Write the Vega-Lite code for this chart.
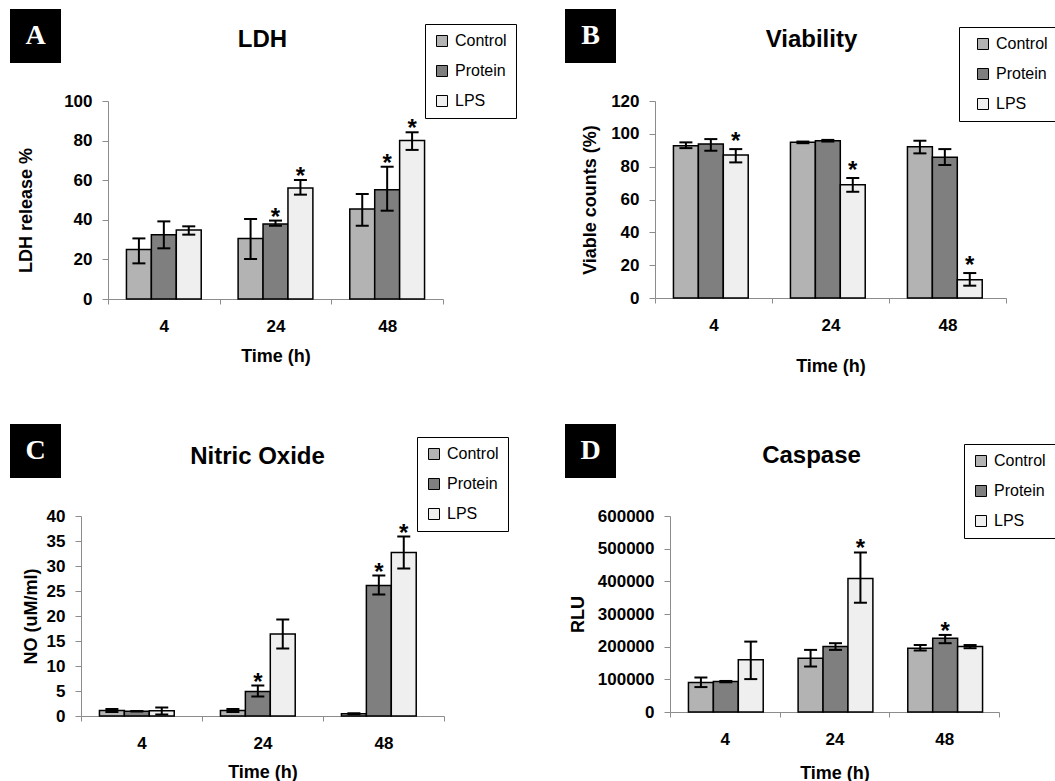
{
  "$schema": "https://vega.github.io/schema/vega-lite/v6.json",
  "padding": {"left": 10, "top": 3, "right": 0, "bottom": 0},
  "background": "white",
  "datasets": {
    "lds": [
      {"time": "4", "group": "Control", "value": 25, "lo": 18, "hi": 30.6, "sig": ""},
      {"time": "4", "group": "Protein", "value": 32.5, "lo": 25.6, "hi": 39.2, "sig": ""},
      {"time": "4", "group": "LPS", "value": 34.8, "lo": 32.5, "hi": 36.7, "sig": ""},
      {"time": "24", "group": "Control", "value": 30.6, "lo": 20.2, "hi": 40.4, "sig": ""},
      {"time": "24", "group": "Protein", "value": 37.9, "lo": 37, "hi": 39.6, "sig": "*"},
      {"time": "24", "group": "LPS", "value": 56, "lo": 52.7, "hi": 60.1, "sig": "*"},
      {"time": "48", "group": "Control", "value": 45.5, "lo": 37, "hi": 53, "sig": ""},
      {"time": "48", "group": "Protein", "value": 55.2, "lo": 44.6, "hi": 66.8, "sig": "*"},
      {"time": "48", "group": "LPS", "value": 80, "lo": 75.3, "hi": 84.2, "sig": "*"}
    ],
    "via": [
      {"time": "4", "group": "Control", "value": 92.8, "lo": 91.3, "hi": 94.8, "sig": ""},
      {"time": "4", "group": "Protein", "value": 93.8, "lo": 89.7, "hi": 96.8, "sig": ""},
      {"time": "4", "group": "LPS", "value": 87.1, "lo": 82.6, "hi": 90.7, "sig": "*"},
      {"time": "24", "group": "Control", "value": 94.8, "lo": 94.3, "hi": 95.3, "sig": ""},
      {"time": "24", "group": "Protein", "value": 95.8, "lo": 95.3, "hi": 96.3, "sig": ""},
      {"time": "24", "group": "LPS", "value": 69, "lo": 64.7, "hi": 73.1, "sig": "*"},
      {"time": "48", "group": "Control", "value": 92.1, "lo": 88.1, "hi": 95.8, "sig": ""},
      {"time": "48", "group": "Protein", "value": 85.7, "lo": 81, "hi": 90.7, "sig": ""},
      {"time": "48", "group": "LPS", "value": 11.1, "lo": 7.5, "hi": 15.2, "sig": "*"}
    ],
    "no": [
      {"time": "4", "group": "Control", "value": 1.1, "lo": 0.8, "hi": 1.4, "sig": ""},
      {"time": "4", "group": "Protein", "value": 0.95, "lo": 0.9, "hi": 1.0, "sig": ""},
      {"time": "4", "group": "LPS", "value": 1.05, "lo": 0.3, "hi": 1.7, "sig": ""},
      {"time": "24", "group": "Control", "value": 1.1, "lo": 0.8, "hi": 1.4, "sig": ""},
      {"time": "24", "group": "Protein", "value": 4.9, "lo": 3.9, "hi": 6.1, "sig": "*"},
      {"time": "24", "group": "LPS", "value": 16.4, "lo": 13.5, "hi": 19.3, "sig": ""},
      {"time": "48", "group": "Control", "value": 0.45, "lo": 0.35, "hi": 0.55, "sig": ""},
      {"time": "48", "group": "Protein", "value": 26.1, "lo": 24.3, "hi": 28.1, "sig": "*"},
      {"time": "48", "group": "LPS", "value": 32.7, "lo": 29.5, "hi": 35.9, "sig": "*"}
    ],
    "cas": [
      {"time": "4", "group": "Control", "value": 90300, "lo": 76300, "hi": 105600, "sig": ""},
      {"time": "4", "group": "Protein", "value": 93400, "lo": 91000, "hi": 95000, "sig": ""},
      {"time": "4", "group": "LPS", "value": 159600, "lo": 100700, "hi": 215500, "sig": ""},
      {"time": "24", "group": "Control", "value": 164800, "lo": 139200, "hi": 190100, "sig": ""},
      {"time": "24", "group": "Protein", "value": 200200, "lo": 190100, "hi": 210600, "sig": ""},
      {"time": "24", "group": "LPS", "value": 409000, "lo": 334500, "hi": 488300, "sig": "*"},
      {"time": "48", "group": "Control", "value": 195300, "lo": 188000, "hi": 205000, "sig": ""},
      {"time": "48", "group": "Protein", "value": 225800, "lo": 210600, "hi": 235900, "sig": "*"},
      {"time": "48", "group": "LPS", "value": 200200, "lo": 195300, "hi": 205000, "sig": ""}
    ]
  },
  "columns": 2,
  "spacing": {"row": 43, "column": 48},
  "align": "each",
  "bounds": "full",
  "resolve": {"scale": {"color": "independent"}, "legend": {"color": "independent"}},
  "concat": [
    {
      "columns": 2, "spacing": {"row": 38, "column": 0}, "align": "each", "bounds": "flush",
      "resolve": {"scale": {"color": "independent"}, "legend": {"color": "independent"}},
      "concat": [
        {"width": 51, "height": 54, "data": {"values": [{"letter": "A"}]}, "mark": {"type": "text", "font": "Liberation Serif", "fontSize": 28, "fontWeight": "bold", "color": "white", "opacity": 1}, "encoding": {"text": {"field": "letter"}}, "view": {"fill": "black", "stroke": null}},
        {"width": 1, "height": 1, "data": {"values": [{}]}, "mark": {"type": "text", "text": ""}, "encoding": {}, "view": {"stroke": null}},
        {"width": 98, "height": 1, "data": {"values": [{}]}, "mark": {"type": "text", "text": ""}, "encoding": {}, "view": {"stroke": null}},
        {
          "width": 335, "height": 198,
          "data": {"name": "lds"},
          "title": {"text": "LDH", "dx": -13, "offset": -47, "baseline": "alphabetic", "frame": "group"},
          "encoding": {
            "x": {"field": "time", "type": "nominal", "sort": ["4", "24", "48"], "scale": {"paddingInner": 0, "paddingOuter": 0}, "axis": {"title": "Time (h)", "titleY": 62, "labelOverlap": false}},
            "xOffset": {"field": "group", "type": "nominal", "sort": ["Control", "Protein", "LPS"], "scale": {"paddingInner": 0, "paddingOuter": 0.74}}
          },
          "layer": [
            {"mark": {"type": "bar", "stroke": "black", "strokeWidth": 1.5, "opacity": 1},
             "encoding": {
               "y": {"field": "value", "type": "quantitative", "scale": {"domain": [0, 100]}, "axis": {"title": "LDH release %", "values": [0, 20, 40, 60, 80, 100], "tickCount": 20, "labelOverlap": false, "titleX": -82, "titleY": 109}},
               "color": {"field": "group", "type": "nominal", "sort": ["Control", "Protein", "LPS"], "scale": {"domain": ["Control", "Protein", "LPS"], "range": ["#b3b3b3", "#7f7f7f", "#efefef"]}, "legend": {"title": null, "orient": "none", "legendX": 317, "legendY": -77}}
             }},
            {"mark": {"type": "rule", "color": "black", "strokeWidth": 2, "opacity": 1},
             "encoding": {"y": {"field": "lo", "type": "quantitative", "scale": {"domain": [0, 100]}, "title": "LDH release %"}, "y2": {"field": "hi"}}},
            {"mark": {"type": "tick", "color": "black", "size": 13, "thickness": 2, "opacity": 1},
             "encoding": {"y": {"field": "lo", "type": "quantitative", "scale": {"domain": [0, 100]}, "title": "LDH release %"}}},
            {"mark": {"type": "tick", "color": "black", "size": 13, "thickness": 2, "opacity": 1},
             "encoding": {"y": {"field": "hi", "type": "quantitative", "scale": {"domain": [0, 100]}, "title": "LDH release %"}}},
            {"mark": {"type": "text", "fontSize": 24, "fontWeight": "bold", "dy": 4, "baseline": "alphabetic", "color": "black", "opacity": 1},
             "encoding": {"y": {"field": "hi", "type": "quantitative", "scale": {"domain": [0, 100]}, "title": "LDH release %"}, "text": {"field": "sig"}}}
          ]
        }
      ]
    },
    {
      "columns": 2, "spacing": {"row": 38, "column": 0}, "align": "each", "bounds": "flush",
      "resolve": {"scale": {"color": "independent"}, "legend": {"color": "independent"}},
      "concat": [
        {"width": 51, "height": 54, "data": {"values": [{"letter": "B"}]}, "mark": {"type": "text", "font": "Liberation Serif", "fontSize": 28, "fontWeight": "bold", "color": "white", "opacity": 1}, "encoding": {"text": {"field": "letter"}}, "view": {"fill": "black", "stroke": null}},
        {"width": 1, "height": 1, "data": {"values": [{}]}, "mark": {"type": "text", "text": ""}, "encoding": {}, "view": {"stroke": null}},
        {"width": 90, "height": 1, "data": {"values": [{}]}, "mark": {"type": "text", "text": ""}, "encoding": {}, "view": {"stroke": null}},
        {
          "width": 351, "height": 197,
          "data": {"name": "via"},
          "title": {"text": "Viability", "dx": -19, "offset": -44, "baseline": "alphabetic", "frame": "group"},
          "encoding": {
            "x": {"field": "time", "type": "nominal", "sort": ["4", "24", "48"], "scale": {"paddingInner": 0, "paddingOuter": 0}, "axis": {"title": "Time (h)", "titleY": 73, "labelOverlap": false}},
            "xOffset": {"field": "group", "type": "nominal", "sort": ["Control", "Protein", "LPS"], "scale": {"paddingInner": 0, "paddingOuter": 0.74}}
          },
          "layer": [
            {"mark": {"type": "bar", "stroke": "black", "strokeWidth": 1.5, "opacity": 1},
             "encoding": {
               "y": {"field": "value", "type": "quantitative", "scale": {"domain": [0, 120]}, "axis": {"title": "Viable counts (%)", "values": [0, 20, 40, 60, 80, 100, 120], "tickCount": 20, "labelOverlap": false, "titleX": -65}},
               "color": {"field": "group", "type": "nominal", "sort": ["Control", "Protein", "LPS"], "scale": {"domain": ["Control", "Protein", "LPS"], "range": ["#b3b3b3", "#7f7f7f", "#efefef"]}, "legend": {"title": null, "orient": "none", "legendX": 304, "legendY": -74, "symbolOffset": 7}}
             }},
            {"mark": {"type": "rule", "color": "black", "strokeWidth": 2, "opacity": 1},
             "encoding": {"y": {"field": "lo", "type": "quantitative", "scale": {"domain": [0, 120]}, "title": "Viable counts (%)"}, "y2": {"field": "hi"}}},
            {"mark": {"type": "tick", "color": "black", "size": 13, "thickness": 2, "opacity": 1},
             "encoding": {"y": {"field": "lo", "type": "quantitative", "scale": {"domain": [0, 120]}, "title": "Viable counts (%)"}}},
            {"mark": {"type": "tick", "color": "black", "size": 13, "thickness": 2, "opacity": 1},
             "encoding": {"y": {"field": "hi", "type": "quantitative", "scale": {"domain": [0, 120]}, "title": "Viable counts (%)"}}},
            {"mark": {"type": "text", "fontSize": 24, "fontWeight": "bold", "dy": 0, "baseline": "alphabetic", "color": "black", "opacity": 1},
             "encoding": {"y": {"field": "hi", "type": "quantitative", "scale": {"domain": [0, 120]}, "title": "Viable counts (%)"}, "text": {"field": "sig"}}}
          ]
        }
      ]
    },
    {
      "columns": 2, "spacing": {"row": 38, "column": 0}, "align": "each", "bounds": "flush",
      "resolve": {"scale": {"color": "independent"}, "legend": {"color": "independent"}},
      "concat": [
        {"width": 51, "height": 54, "data": {"values": [{"letter": "C"}]}, "mark": {"type": "text", "font": "Liberation Serif", "fontSize": 28, "fontWeight": "bold", "color": "white", "opacity": 1}, "encoding": {"text": {"field": "letter"}}, "view": {"fill": "black", "stroke": null}},
        {"width": 1, "height": 1, "data": {"values": [{}]}, "mark": {"type": "text", "text": ""}, "encoding": {}, "view": {"stroke": null}},
        {"width": 71, "height": 1, "data": {"values": [{}]}, "mark": {"type": "text", "text": ""}, "encoding": {}, "view": {"stroke": null}},
        {
          "width": 363, "height": 200,
          "data": {"name": "no"},
          "title": {"text": "Nitric Oxide", "dx": -5, "offset": -51, "baseline": "alphabetic", "frame": "group"},
          "encoding": {
            "x": {"field": "time", "type": "nominal", "sort": ["4", "24", "48"], "scale": {"paddingInner": 0, "paddingOuter": 0}, "axis": {"title": "Time (h)", "titleY": 61, "labelOverlap": false}},
            "xOffset": {"field": "group", "type": "nominal", "sort": ["Control", "Protein", "LPS"], "scale": {"paddingInner": 0, "paddingOuter": 0.74}}
          },
          "layer": [
            {"mark": {"type": "bar", "stroke": "black", "strokeWidth": 1.5, "opacity": 1},
             "encoding": {
               "y": {"field": "value", "type": "quantitative", "scale": {"domain": [0, 40]}, "axis": {"title": "NO (uM/ml)", "values": [0, 5, 10, 15, 20, 25, 30, 35, 40], "tickCount": 20, "labelOverlap": false, "titleX": -50}},
               "color": {"field": "group", "type": "nominal", "sort": ["Control", "Protein", "LPS"], "scale": {"domain": ["Control", "Protein", "LPS"], "range": ["#b3b3b3", "#7f7f7f", "#efefef"]}, "legend": {"title": null, "orient": "none", "legendX": 336, "legendY": -79}}
             }},
            {"mark": {"type": "rule", "color": "black", "strokeWidth": 2, "opacity": 1},
             "encoding": {"y": {"field": "lo", "type": "quantitative", "scale": {"domain": [0, 40]}, "title": "NO (uM/ml)"}, "y2": {"field": "hi"}}},
            {"mark": {"type": "tick", "color": "black", "size": 13, "thickness": 2, "opacity": 1},
             "encoding": {"y": {"field": "lo", "type": "quantitative", "scale": {"domain": [0, 40]}, "title": "NO (uM/ml)"}}},
            {"mark": {"type": "tick", "color": "black", "size": 13, "thickness": 2, "opacity": 1},
             "encoding": {"y": {"field": "hi", "type": "quantitative", "scale": {"domain": [0, 40]}, "title": "NO (uM/ml)"}}},
            {"mark": {"type": "text", "fontSize": 24, "fontWeight": "bold", "dy": 4, "baseline": "alphabetic", "color": "black", "opacity": 1},
             "encoding": {"y": {"field": "hi", "type": "quantitative", "scale": {"domain": [0, 40]}, "title": "NO (uM/ml)"}, "text": {"field": "sig"}}}
          ]
        }
      ]
    },
    {
      "columns": 2, "spacing": {"row": 38, "column": 0}, "align": "each", "bounds": "flush",
      "resolve": {"scale": {"color": "independent"}, "legend": {"color": "independent"}},
      "concat": [
        {"width": 51, "height": 54, "data": {"values": [{"letter": "D"}]}, "mark": {"type": "text", "font": "Liberation Serif", "fontSize": 28, "fontWeight": "bold", "color": "white", "opacity": 1}, "encoding": {"text": {"field": "letter"}}, "view": {"fill": "black", "stroke": null}},
        {"width": 1, "height": 1, "data": {"values": [{}]}, "mark": {"type": "text", "text": ""}, "encoding": {}, "view": {"stroke": null}},
        {"width": 105, "height": 1, "data": {"values": [{}]}, "mark": {"type": "text", "text": ""}, "encoding": {}, "view": {"stroke": null}},
        {
          "width": 329, "height": 196,
          "data": {"name": "cas"},
          "title": {"text": "Caspase", "dx": -23, "offset": -43, "baseline": "alphabetic", "frame": "group"},
          "encoding": {
            "x": {"field": "time", "type": "nominal", "sort": ["4", "24", "48"], "scale": {"paddingInner": 0, "paddingOuter": 0}, "axis": {"title": "Time (h)", "titleY": 66, "labelOverlap": false}},
            "xOffset": {"field": "group", "type": "nominal", "sort": ["Control", "Protein", "LPS"], "scale": {"paddingInner": 0, "paddingOuter": 0.74}}
          },
          "layer": [
            {"mark": {"type": "bar", "stroke": "black", "strokeWidth": 1.5, "opacity": 1},
             "encoding": {
               "y": {"field": "value", "type": "quantitative", "scale": {"domain": [0, 600000]}, "axis": {"title": "RLU", "format": "d", "values": [0, 100000, 200000, 300000, 400000, 500000, 600000], "tickCount": 20, "labelOverlap": false, "titleX": -92}},
               "color": {"field": "group", "type": "nominal", "sort": ["Control", "Protein", "LPS"], "scale": {"domain": ["Control", "Protein", "LPS"], "range": ["#b3b3b3", "#7f7f7f", "#efefef"]}, "legend": {"title": null, "orient": "none", "legendX": 294, "legendY": -72}}
             }},
            {"mark": {"type": "rule", "color": "black", "strokeWidth": 2, "opacity": 1},
             "encoding": {"y": {"field": "lo", "type": "quantitative", "scale": {"domain": [0, 600000]}, "title": "RLU"}, "y2": {"field": "hi"}}},
            {"mark": {"type": "tick", "color": "black", "size": 13, "thickness": 2, "opacity": 1},
             "encoding": {"y": {"field": "lo", "type": "quantitative", "scale": {"domain": [0, 600000]}, "title": "RLU"}}},
            {"mark": {"type": "tick", "color": "black", "size": 13, "thickness": 2, "opacity": 1},
             "encoding": {"y": {"field": "hi", "type": "quantitative", "scale": {"domain": [0, 600000]}, "title": "RLU"}}},
            {"mark": {"type": "text", "fontSize": 24, "fontWeight": "bold", "dy": 4, "baseline": "alphabetic", "color": "black", "opacity": 1},
             "encoding": {"y": {"field": "hi", "type": "quantitative", "scale": {"domain": [0, 600000]}, "title": "RLU"}, "text": {"field": "sig"}}}
          ]
        }
      ]
    }
  ],
  "config": {
    "font": "Liberation Sans",
    "view": {"stroke": null},
    "title": {"font": "Liberation Sans", "fontSize": 24, "fontWeight": "bold", "color": "black", "anchor": "middle"},
    "axis": {"labelFont": "Liberation Sans", "labelFontSize": 17, "labelFontWeight": "bold", "labelColor": "black", "titleFont": "Liberation Sans", "titleFontSize": 18, "titleFontWeight": "bold", "titleColor": "black", "domainColor": "#8c8c8c", "tickColor": "#8c8c8c", "grid": false, "labelOverlap": false},
    "axisX": {"labelAngle": 0, "tickBand": "extent", "tickSize": 5, "labelPadding": 27, "labelBaseline": "alphabetic", "titleBaseline": "alphabetic"},
    "axisY": {"tickSize": 6, "labelPadding": 10, "titleBaseline": "middle"},
    "legend": {"strokeColor": "black", "fillColor": "white", "padding": 9, "rowPadding": 14, "symbolType": "square", "symbolSize": 121, "symbolStrokeColor": "black", "symbolStrokeWidth": 1, "labelFont": "Liberation Sans", "labelFontSize": 16, "labelOffset": 5, "labelColor": "black"}
  }
}
